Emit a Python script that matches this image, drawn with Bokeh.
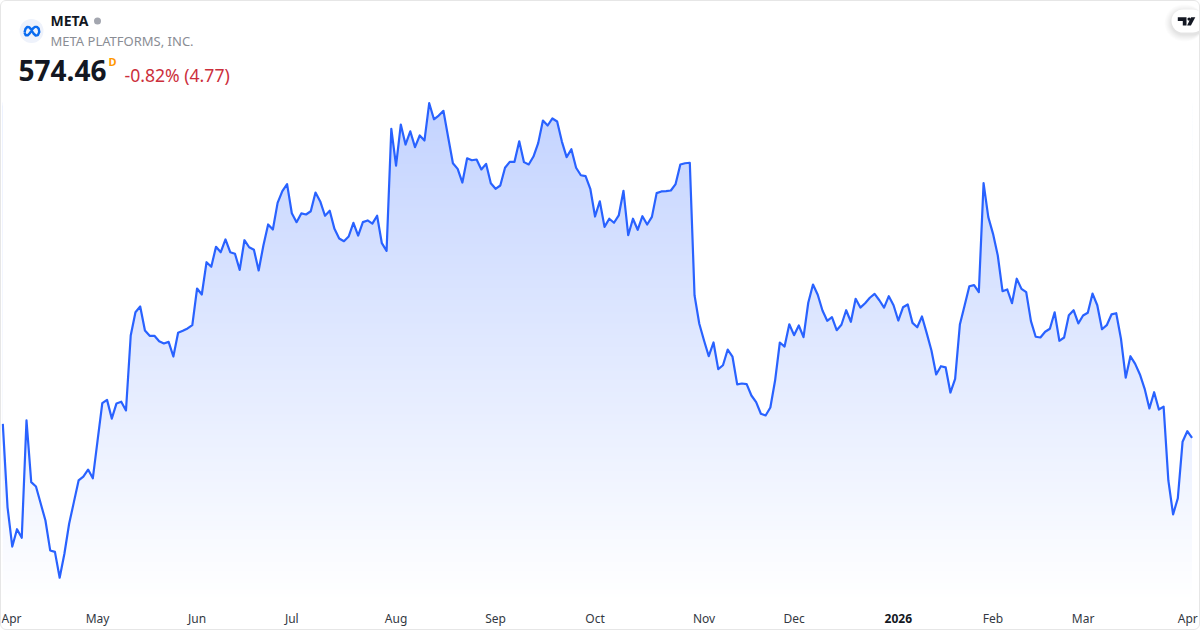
from bokeh.embed import file_html
from bokeh.resources import INLINE
from bokeh.plotting import figure
from bokeh.models import ColumnDataSource, FixedTicker, Label, BoxAnnotation, LinearAxis
import numpy as np

ticker = "META"
company = "META PLATFORMS, INC."
last_price = "574.46"
interval_flag = "D"
change_text = "-0.82% (4.77)"

close = [
 583.4,529.9,504.7,515.8,510.3,585.6,546.0,543.2,532.3,521.4,502.2,501.3,484.7,500.1,519.3,533.2,547.1,549.6,554.1,548.5,
 572.7,596.7,598.8,586.8,596.5,597.6,592.0,640.1,655.0,658.7,643.3,639.9,639.9,636.4,635.0,636.0,626.6,641.8,643.1,644.6,
 646.7,670.2,666.4,687.1,684.2,697.0,693.5,701.7,693.5,692.5,682.2,701.2,696.7,695.1,681.8,697.8,711.3,708.1,725.2,732.7,
 737.2,718.5,712.8,718.4,717.7,719.8,731.8,726.1,716.9,720.1,708.5,702.3,700.6,703.6,712.4,704.2,712.8,713.9,711.9,716.9,
 699.3,694.4,772.7,749.1,775.4,762.6,771.1,760.9,768.4,765.2,789.1,778.8,781.2,784.2,767.3,750.6,747.0,738.2,753.8,752.5,
 753.0,746.6,750.2,737.8,734.2,736.3,747.7,751.5,751.5,764.7,751.3,749.8,754.9,763.5,778.0,774.8,779.3,777.4,764.5,754.5,
 759.6,747.7,742.9,742.3,734.2,716.4,726.2,709.8,715.0,712.4,717.1,732.9,704.4,715.0,707.9,716.6,711.3,716.2,731.4,732.5,
 732.7,733.1,737.2,749.8,750.6,750.9,665.8,647.6,636.9,626.8,635.6,618.5,621.0,631.1,626.6,608.7,609.3,608.9,601.6,597.3,
 589.9,588.8,593.9,611.2,635.6,633.0,647.3,640.3,646.5,639.0,661.1,672.8,666.2,656.1,649.5,651.8,643.5,647.0,656.3,648.9,
 663.6,658.0,660.8,664.3,666.8,662.7,658.0,665.3,659.5,649.7,658.2,660.0,648.2,645.4,652.3,641.6,630.5,615.1,620.4,619.6,
 603.5,612.3,647.1,659.3,671.7,672.4,667.9,737.8,716.0,705.3,691.4,668.5,669.6,660.8,676.5,670.0,667.9,649.3,639.3,638.8,
 642.5,644.4,655.0,636.7,638.8,653.1,656.3,647.8,652.9,654.7,667.0,659.5,644.1,646.7,653.6,654.4,638.0,613.0,626.8,621.9,
 615.1,605.9,593.3,603.7,592.6,594.5,547.1,525.3,535.7,571.9,578.7,574.46,
]
tick_positions = [1.8, 20, 41, 61, 83, 104, 125, 148, 167, 209, 228, 250.1]
tick_labels = ["Apr", "May", "Jun", "Jul", "Aug", "Sep", "Oct", "Nov", "Dec", "Feb", "Mar", "Apr"]
year_position = 189
year_label = "2026"

W, H, FRAME_H = 1200, 630, 630
X0, DX = 2.3, 4.738
XS, XE = (1 - X0) / DX, (W + 1 - X0) / DX
PK, PB = 0.6415, 854.99
YS, YE = PB - PK * (FRAME_H + 1), PB - PK * 1


def sx(px):
    return (np.asarray(px, float) - X0) / DX


def sy(py):
    return PB - PK * np.asarray(py, float)


p = figure(width=W, height=H, output_backend="svg", toolbar_location=None,
           x_range=(XS, XE), y_range=(YS, YE), min_border=0,
           y_axis_location=None, background_fill_color=None, border_fill_color=None)
p.styles = {"border": "1px solid #e6e6e6", "border-radius": "6px", "box-sizing": "border-box"}
p.grid.visible = False
p.outline_line_color = None

ax = p.xaxis[0]
ax.ticker = FixedTicker(ticks=tick_positions)
ax.major_label_overrides = {t: l for t, l in zip(tick_positions, tick_labels)}
ax.major_label_text_color = "#333842"
ax.major_label_text_font_style = "normal"

year_axis = LinearAxis(ticker=FixedTicker(ticks=[year_position]),
                       major_label_overrides={year_position: year_label})
year_axis.major_label_text_color = "#131722"
year_axis.major_label_text_font_style = "bold"
p.add_layout(year_axis, "below")

for a in (ax, year_axis):
    a.fixed_location = float(sy(601))
    a.axis_line_color = None
    a.major_tick_line_color = None
    a.minor_tick_line_color = None
    a.major_label_text_font = "Noto Sans"
    a.major_label_text_font_size = "12px"
    a.major_label_standoff = 2
year_axis.major_label_standoff = 6

idx = np.arange(len(close))
src = ColumnDataSource(dict(x=idx, close=close, top=[YE] * len(close)))

# vertical gradient under the line: each band overlaps the next, which paints over it
edges = np.linspace(float(sy(102)), float(sy(600)), 170)
cols = []
for i in range(len(edges) - 1):
    a = 0.28 - 0.28 * (i + 0.5) / (len(edges) - 1)
    cols.append("#%02x%02x%02x" % (round(255 - 214 * a), round(255 - 157 * a), 255))
p.quad(left=0, right=len(close) - 1, top=edges[:-1], bottom=np.r_[edges[2:], edges[-1]], fill_color=cols, line_color=None)
p.varea(x="x", y1="close", y2="top", source=src, fill_color="white")
p.line(x="x", y="close", source=src, line_color="#2962ff", line_width=2.2, line_join="round")


def lab(px, py, text, size, color, style="normal", font="Noto Sans", align="left"):
    p.add_layout(Label(x=float(sx(px - 1)), y=float(sy(py - 1)), text=text, text_font=font, text_font_size=size,
                       text_color=color, text_font_style=style, text_align=align, text_baseline="middle"))


lab(51, 21, ticker, "14px", "#131722", "bold")
lab(51, 41, company, "13px", "#8a8d94")
lab(19, 71, last_price, "28px", "#131722", "bold")
lab(109, 61.5, interval_flag, "11px", "#ff9800", "bold")
lab(125, 75, change_text, "17.6px", "#cc2f3c")

# status dot
p.scatter([float(sx(97))], [float(sy(20.5))], size=7, color="#a3a6af", line_color=None)

# logo disc and mark
p.scatter([float(sx(31))], [float(sy(30.5))], size=24, color="#eef2fb", line_color=None)
lx = [24.0, 25.0, 26.8, 28.6, 30.4, 33.0, 35.2, 37.4, 38.8, 38.2, 36.4, 34.4, 32.4, 29.4, 27.2, 25.2, 24.0]
ly = [32.0, 28.4, 26.4, 26.6, 28.6, 33.0, 35.0, 34.6, 31.6, 28.2, 26.4, 26.4, 28.0, 32.6, 34.8, 34.8, 32.0]
p.line(sx(lx), sy(ly), line_color="#0a6cf0", line_width=2.4, line_join="round")

# attribution badge with soft shadow
for grow, alpha in [(7, 0.010), (6, 0.012), (5, 0.012), (4, 0.014), (3, 0.016), (2, 0.018), (1, 0.02)]:
    p.add_layout(BoxAnnotation(left=float(sx(1171 - grow)), right=float(sx(1204)),
                               top=float(sy(9 - grow + 2)), bottom=float(sy(32 + grow + 2)),
                               fill_color="black", fill_alpha=alpha, line_color=None, border_radius=12 + grow))
p.add_layout(BoxAnnotation(left=float(sx(1171)), right=float(sx(1204)), top=float(sy(9)), bottom=float(sy(32)),
                           fill_color="white", fill_alpha=1, line_color=None, border_radius=12))
p.patch(sx([1177.3, 1186, 1186, 1182.3, 1182.3, 1177.3]),
        sy([16.7, 16.7, 25, 25, 20.4, 20.4]), color="#131722", line_color=None, level="overlay")
p.patch(sx([1190.6, 1194.8, 1190.4, 1186.6]), sy([16.7, 16.7, 25, 25]), color="#131722", line_color=None, level="overlay")
p.scatter([float(sx(1188.6))], [float(sy(18.6))], size=3.4, color="#131722", line_color=None, level="overlay")

open("out.html", "w").write(file_html(p, INLINE))
